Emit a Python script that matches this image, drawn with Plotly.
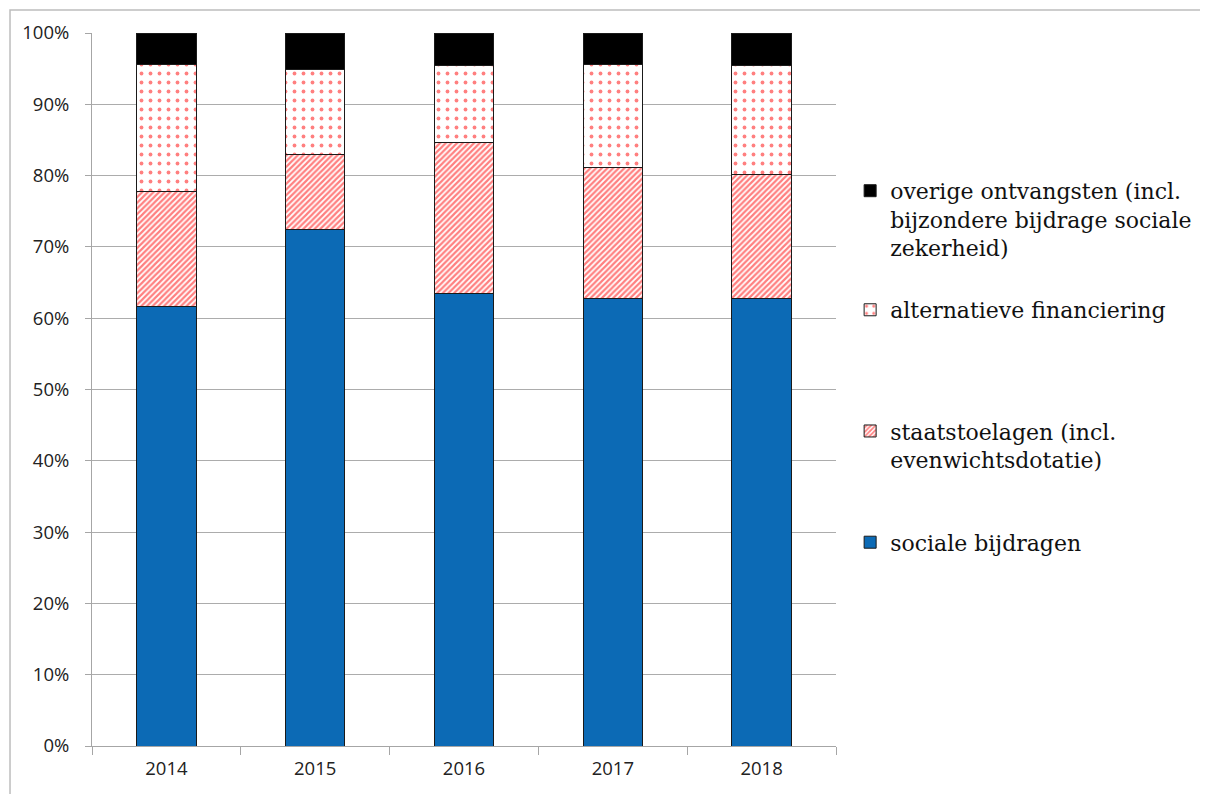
import plotly.graph_objects as go

years = ["2014", "2015", "2016", "2017", "2018"]
sociale = [61.7, 72.4, 63.5, 62.7, 62.8]
staat = [16.1, 10.5, 21.1, 18.5, 17.3]
alternatief = [17.85, 12.05, 10.8, 14.45, 15.4]
overige = [4.35, 5.05, 4.6, 4.35, 4.5]

names = {
    "overige": "overige ontvangsten (incl.<br>bijzondere bijdrage sociale<br>zekerheid)",
    "alt": "alternatieve financiering",
    "staat": "staatstoelagen (incl.<br>evenwichtsdotatie)",
    "sociale": "sociale bijdragen",
}

line = dict(color="#1a1a1a", width=1)
fig = go.Figure()
fig.add_trace(go.Bar(x=years, y=sociale, name=names["sociale"], legend="legend4",
                     marker=dict(color="#0c6ab5", line=line)))
fig.add_trace(go.Bar(x=years, y=staat, name=names["staat"], legend="legend3",
                     marker=dict(color="white", line=line,
                                 pattern=dict(shape="/", fgcolor="#ff0000", bgcolor="white",
                                              size=4, solidity=0.55, fillmode="overlay"))))
fig.add_trace(go.Bar(x=years, y=alternatief, name=names["alt"], legend="legend2",
                     marker=dict(color="white", line=line,
                                 pattern=dict(shape=".", fgcolor="#ff0000", bgcolor="white",
                                              size=9, solidity=0.14, fillmode="overlay"))))
fig.add_trace(go.Bar(x=years, y=overige, name=names["overige"], legend="legend5",
                     marker=dict(color="black", line=line)))

lfont = dict(family="DejaVu Serif", size=22, color="#111")
def leg(y):
    return dict(x=1.019, y=y, xanchor="left", yanchor="top", font=lfont,
                valign="top", bgcolor="rgba(0,0,0,0)", visible=True)

fig.update_layout(
    barmode="stack",
    bargap=0.6,
    showlegend=True,
    width=1208, height=794,
    margin=dict(l=84, r=380, t=25, b=56, autoexpand=False),
    paper_bgcolor="white", plot_bgcolor="white",
    font=dict(family="Open Sans, sans-serif", size=18.5, color="#222"),
    legend5=leg(0.808),
    legend2=leg(0.641),
    legend3=leg(0.471),
    legend4=leg(0.315),
    xaxis=dict(showline=True, linecolor="#a6a6a6", linewidth=1, ticks="outside",
               tickson="boundaries", ticklen=8, tickcolor="#a6a6a6",
               ticklabelstandoff=6, showgrid=False),
    yaxis=dict(range=[0, 100], dtick=10, ticksuffix="%", showline=True,
               linecolor="#a6a6a6", linewidth=1, ticks="outside", ticklen=6,
               tickcolor="#a6a6a6", gridcolor="#acacac", gridwidth=1,
               ticklabelstandoff=12, zeroline=False),
    shapes=[dict(type="rect", xref="paper", yref="paper", x0=-0.1102, x1=1.6,
                 y0=-0.09, y1=1.0322, line=dict(color="#bdbdbd", width=1.5),
                 fillcolor="rgba(0,0,0,0)", layer="below")],
)

fig.write_html("out.html")
